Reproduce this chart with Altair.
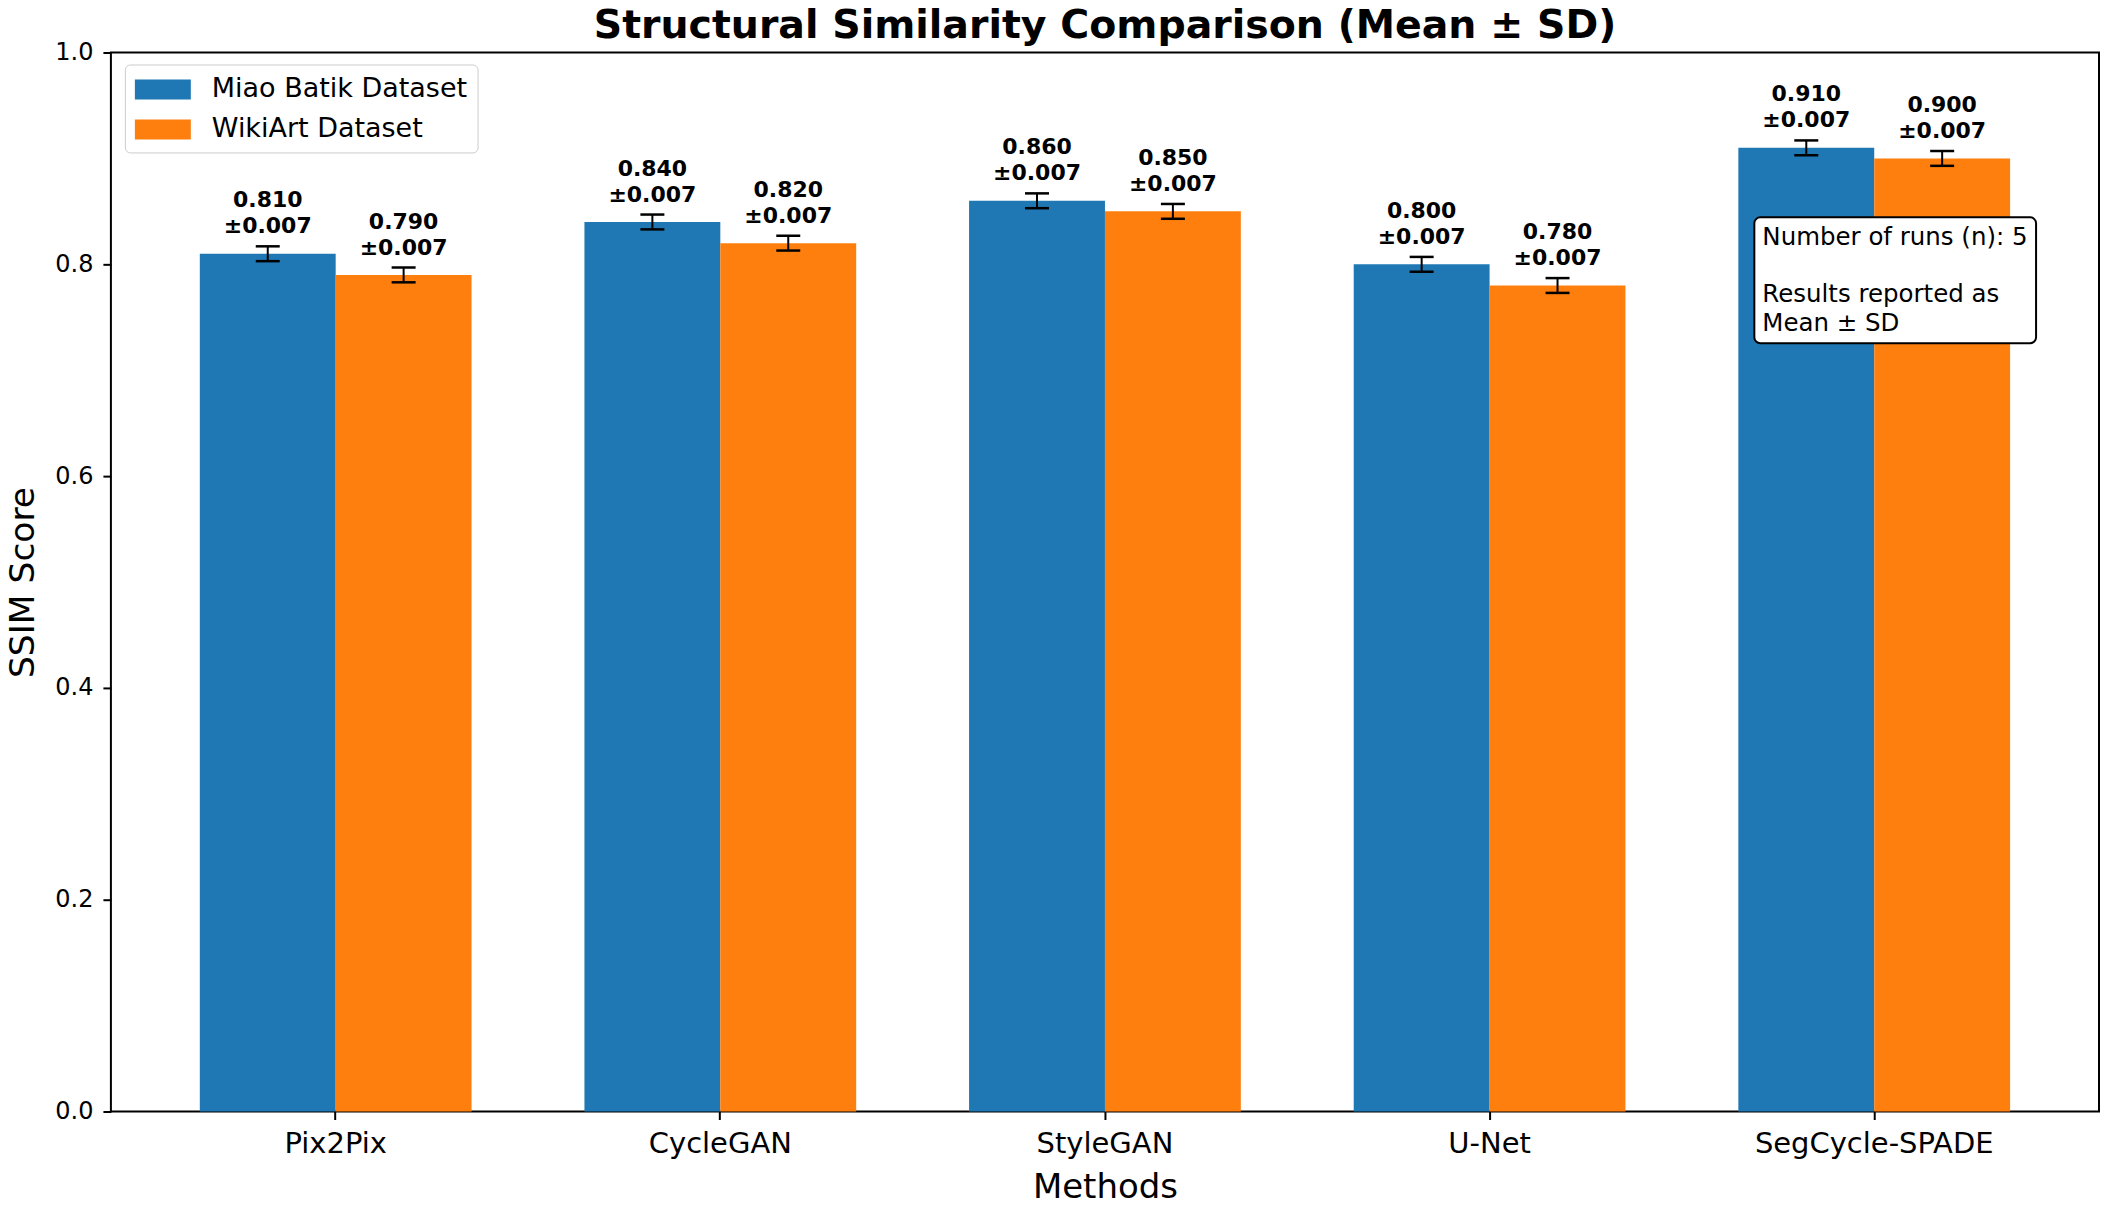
import altair as alt
import pandas as pd

methods = ["Pix2Pix", "CycleGAN", "StyleGAN", "U-Net", "SegCycle-SPADE"]
datasets = ["Miao Batik Dataset", "WikiArt Dataset"]
miao_mean = [0.810, 0.840, 0.860, 0.800, 0.910]
wiki_mean = [0.790, 0.820, 0.850, 0.780, 0.900]
miao_sd = [0.007, 0.007, 0.007, 0.007, 0.007]
wiki_sd = [0.007, 0.007, 0.007, 0.007, 0.007]
colors = ["#1f77b4", "#ff7f0e"]
y_ticks = [0.0, 0.2, 0.4, 0.6, 0.8, 1.0]
note_line1 = "Number of runs (n): 5"
note_lines2 = ["Results reported as", "Mean ± SD"]
title_text = "Structural Similarity Comparison (Mean ± SD)"

rows = []
for ds, means, sds in [(datasets[0], miao_mean, miao_sd), (datasets[1], wiki_mean, wiki_sd)]:
    for m, v, s in zip(methods, means, sds):
        rows.append(dict(method=m, dataset=ds, mean=v, sd=s, lo=v - s, hi=v + s,
                         label=f"{v:.3f}\n±{s:.3f}"))
df = pd.DataFrame(rows)

FONT = "DejaVu Sans"

x_enc = alt.X("method:N", sort=methods, title="Methods",
              scale=alt.Scale(paddingInner=0, paddingOuter=0.0844),
              axis=alt.Axis(labelAngle=0, labelFontSize=29, titleFontSize=34,
                            labelPadding=10, titlePadding=12, tickSize=8, tickWidth=2,
                            domain=False, labelFont=FONT, titleFont=FONT, labelLimit=500,
                            labelColor="black", titleColor="black", tickColor="black",
                            titleFontWeight="normal"))
xo_enc = alt.XOffset("dataset:N", sort=datasets,
                     scale=alt.Scale(paddingInner=0, paddingOuter=0.4154))
y_scale = alt.Scale(domain=[0, 1], nice=False, zero=True)

base = alt.Chart(df)

bars = base.mark_bar(stroke=None, opacity=1).encode(
    x=x_enc,
    xOffset=xo_enc,
    y=alt.Y("mean:Q", scale=y_scale, title="SSIM Score",
            axis=alt.Axis(values=y_ticks, format=".1f", labelFontSize=24, titleFontSize=34.5,
                          labelPadding=10, titlePadding=14, tickSize=8, tickWidth=2,
                          grid=False, domain=False, labelFont=FONT, titleFont=FONT,
                          labelColor="black", titleColor="black", tickColor="black",
                          titleFontWeight="normal")),
    color=alt.Color("dataset:N", sort=datasets,
                    scale=alt.Scale(domain=datasets, range=colors),
                    legend=alt.Legend(title=None, orient="none", legendX=14, legendY=12,
                                      fillColor="white", strokeColor="#cccccc",
                                      cornerRadius=5, padding=10,
                                      symbolType="M-1.867,-0.667H1.867V0.667H-1.867Z",
                                      symbolSize=900, symbolStrokeWidth=0,
                                      symbolOpacity=1, symbolOffset=13,
                                      labelFont=FONT, labelFontSize=27, labelLimit=500,
                                      labelColor="black", labelOffset=34,
                                      rowPadding=12)),
)

err_rule = base.mark_rule(color="black", strokeWidth=2).encode(
    x=alt.X("method:N", sort=methods), xOffset=alt.XOffset("dataset:N", sort=datasets),
    y=alt.Y("lo:Q", scale=y_scale), y2="hi:Q")
cap_lo = base.mark_tick(color="black", size=24, thickness=2.5, opacity=1).encode(
    x=alt.X("method:N", sort=methods), xOffset=alt.XOffset("dataset:N", sort=datasets),
    y=alt.Y("lo:Q", scale=y_scale))
cap_hi = base.mark_tick(color="black", size=24, thickness=2.5, opacity=1).encode(
    x=alt.X("method:N", sort=methods), xOffset=alt.XOffset("dataset:N", sort=datasets),
    y=alt.Y("hi:Q", scale=y_scale))

labels = base.mark_text(font=FONT, fontWeight="bold", fontSize=22, lineBreak="\n",
                        baseline="alphabetic", align="center", dy=-39, lineHeight=26,
                        color="black").encode(
    x=alt.X("method:N", sort=methods), xOffset=alt.XOffset("dataset:N", sort=datasets),
    y=alt.Y("hi:Q", scale=y_scale), text="label:N")

note_df1 = pd.DataFrame({"text": [note_line1]})
note_df2 = pd.DataFrame({"text": ["\n".join(note_lines2)]})
note_box = alt.Chart(note_df1).mark_rect(fill="white", stroke="black", strokeWidth=2,
                                         cornerRadius=6).encode(
    x=alt.value(1645), x2=alt.value(1927), y=alt.value(165), y2=alt.value(291))
note_text1 = alt.Chart(note_df1).mark_text(font=FONT, fontSize=24.5, align="left",
                                           baseline="alphabetic", color="black").encode(
    x=alt.value(1653), y=alt.value(193), text="text:N")
note_text2 = alt.Chart(note_df2).mark_text(font=FONT, fontSize=24.5, lineBreak="\n",
                                           lineHeight=28.5, align="left",
                                           baseline="alphabetic", color="black").encode(
    x=alt.value(1653), y=alt.value(250), text="text:N")

title_df = pd.DataFrame({"text": [title_text]})
title_mark = alt.Chart(title_df).mark_text(font=FONT, fontSize=39.5, fontWeight="bold",
                                           align="center", baseline="alphabetic",
                                           color="black").encode(
    x=alt.value(995), y=alt.value(-15), text="text:N")

chart = alt.layer(bars, err_rule, cap_lo, cap_hi, labels, note_box, note_text1,
                  note_text2, title_mark).properties(
    width=1990, height=1060,
    autosize=alt.AutoSizeParams(type="none"),
    padding={"left": 103, "top": 44, "right": 5, "bottom": 88},
    background="white",
).configure_view(stroke="black", strokeWidth=2)

chart.save("out.html", embed_options={"renderer": "svg", "actions": False})
